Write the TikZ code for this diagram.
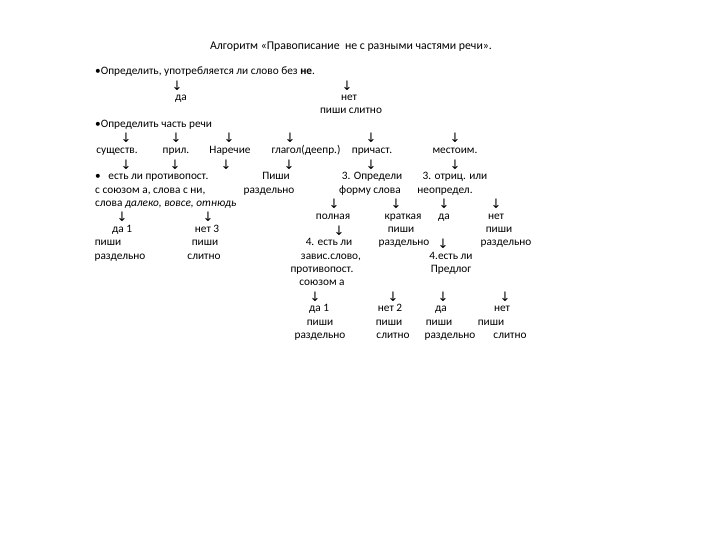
\documentclass[tikz,border=0pt]{standalone}
\usepackage{fontspec}
\setmainfont{Carlito}
\newfontfamily\arrowfont{DejaVu Sans}
\tikzset{
  txt/.style={inner sep=0pt, font=\fontsize{11.3}{13}\selectfont, anchor=mid},
  lt/.style={txt, anchor=mid west},
  ttl/.style={inner sep=0pt, font=\fontsize{11.8}{14}\selectfont, anchor=mid},
  arr/.style={inner sep=0pt, font=\arrowfont\fontsize{13}{15}\selectfont, anchor=center},
}
\begin{document}
\begin{tikzpicture}[x=1pt,y=-1pt]
\useasboundingbox[fill=white] (0,0) rectangle (720,540);
% title
\node[ttl] (title) at (351,47) {Алгоритм «Правописание\ \ не с разными частями речи».};
% k0
\node[lt] (q1) at (95,72) {•Определить, употребляется ли слово без \textbf{не}.};
% k1
\node[arr] (a1) at (177,86) {↓};
\node[arr] (a2) at (347,86) {↓};
% k2
\node[txt] (da0) at (181,98.5) {да};
\node[txt] (net0) at (349,98.5) {нет};
% k3
\node[txt] (sl0) at (351,111.5) {пиши слитно};
% k4
\node[lt] (q2) at (95,124.8) {•Определить часть речи};
% k5
\node[arr] (b1) at (126,138) {↓};
\node[arr] (b2) at (176,138) {↓};
\node[arr] (b3) at (229,138) {↓};
\node[arr] (b4) at (290,138) {↓};
\node[arr] (b5) at (371,138) {↓};
\node[arr] (b6) at (455,138) {↓};
% k6
\node[txt] (n1) at (117,151.2) {существ.};
\node[txt] (n2) at (176,151.2) {прил.};
\node[txt] (n3) at (230,151.2) {Наречие};
\node[txt] (n4) at (306,151.2) {глагол(деепр.)};
\node[txt] (n5) at (372,151.2) {причаст.};
\node[txt] (n6) at (455,151.2) {местоим.};
% k7
\node[arr] (c1) at (126,164.4) {↓};
\node[arr] (c2) at (175,164.4) {↓};
\node[arr] (c3) at (226,164.4) {↓};
\node[arr] (c4) at (289,164.4) {↓};
\node[arr] (c5) at (371,164.4) {↓};
\node[arr] (c6) at (455,164.4) {↓};
% k8
\node[lt] (e1) at (95,177.6) {•\ \ \ есть ли противопост.};
\node[txt] (p1) at (276,177.6) {Пиши};
\node[txt] (f1) at (372,177.6) {3. Определи};
\node[txt] (m1) at (455,177.6) {3. отриц. или};
% k9
\node[lt] (e2) at (95,190.8) {с союзом а, слова с ни,};
\node[txt] (p2) at (269,190.8) {раздельно};
\node[txt] (f2) at (370,190.8) {форму слова};
\node[txt] (m2) at (445,190.8) {неопредел.};
% k10
\node[lt] (e3) at (95,204) {слова \textit{далеко, вовсе, отнюдь}};
\node[arr] (d1) at (334,204) {↓};
\node[arr] (d2) at (396,204) {↓};
\node[arr] (d3) at (444,204) {↓};
\node[arr] (d4) at (496,204) {↓};
% k11
\node[arr] (g1) at (122,217.2) {↓};
\node[arr] (g2) at (208,217.2) {↓};
\node[txt] (h1) at (333,217.2) {полная};
\node[txt] (h2) at (403,217.2) {краткая};
\node[txt] (h3) at (444,217.2) {да};
\node[txt] (h4) at (496,217.2) {нет};
% k12
\node[txt] (i1) at (122,230.4) {да 1};
\node[txt] (i2) at (207,230.4) {нет 3};
\node[arr] (i3) at (339,230.4) {↓};
\node[txt] (i4) at (401,230.4) {пиши};
\node[txt] (i5) at (499,230.4) {пиши};
% k13
\node[txt] (j1) at (108,243.6) {пиши};
\node[txt] (j2) at (205,243.6) {пиши};
\node[txt] (j3) at (329,243.6) {4. есть ли};
\node[txt] (j4) at (404,243.6) {раздельно};
\node[arr] (j5) at (443,243.6) {↓};
\node[txt] (j6) at (506,243.6) {раздельно};
% k14
\node[txt] (k1) at (120,256.8) {раздельно};
\node[txt] (k2) at (204,256.8) {слитно};
\node[txt] (k3) at (331,256.8) {завис.слово,};
\node[txt] (k4) at (451,256.8) {4.есть ли};
% k15
\node[txt] (l1) at (322,270) {противопост.};
\node[txt] (l2) at (451,270) {Предлог};
% k16
\node[txt] (l3) at (322,283.2) {союзом а};
% k17
\node[arr] (o1) at (315,296.4) {↓};
\node[arr] (o2) at (393,296.4) {↓};
\node[arr] (o3) at (443,296.4) {↓};
\node[arr] (o4) at (505,296.4) {↓};
% k18
\node[txt] (s1) at (319,309.6) {да 1};
\node[txt] (s2) at (390,309.6) {нет 2};
\node[txt] (s3) at (441,309.6) {да};
\node[txt] (s4) at (502,309.6) {нет};
% k19
\node[txt] (t1) at (320,322.8) {пиши};
\node[txt] (t2) at (389,322.8) {пиши};
\node[txt] (t3) at (439,322.8) {пиши};
\node[txt] (t4) at (491,322.8) {пиши};
% k20
\node[txt] (u1) at (320,336) {раздельно};
\node[txt] (u2) at (393,336) {слитно};
\node[txt] (u3) at (450,336) {раздельно};
\node[txt] (u4) at (510,336) {слитно};
\end{tikzpicture}
\end{document}
